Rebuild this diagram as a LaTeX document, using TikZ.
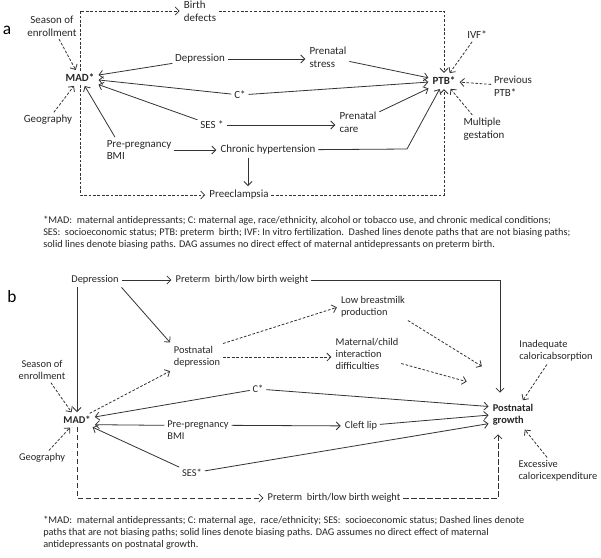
\documentclass[tikz,border=0pt]{standalone}
\usepackage{fontspec}
\setmainfont{Carlito}
\usetikzlibrary{arrows.meta}

\begin{document}
\begin{tikzpicture}[
  x=0.75pt, y=-0.75pt,
  lbl/.style={inner sep=2pt, align=left, font=\fontsize{8.2}{9.6}\selectfont, text=black!85},
  lblb/.style={lbl, font=\fontsize{7.8}{9.2}\selectfont},
  outc/.style={lbl, font=\bfseries\fontsize{8.2}{9.6}\selectfont},
  outcb/.style={lbl, font=\bfseries\fontsize{7.8}{9.2}\selectfont},
  panel/.style={inner sep=0pt, font=\fontsize{13}{13}\selectfont},
  note/.style={anchor=north west, align=left, inner sep=0pt, font=\fontsize{7.7}{9}\selectfont, text=black!85},
  arrow/.style={-{Straight Barb[length=3pt,width=6pt]}, draw=black!80, line width=0.6pt, shorten >=1pt},
  dasharrow/.style={arrow, dash pattern=on 2pt off 1.3pt},
  longdash/.style={arrow, dash pattern=on 4pt off 2pt},
]
  \fill[white] (0,0) rectangle (601,558);
  \useasboundingbox (0,0) rectangle (601,558);

  % panel a
  \node[panel] (lbla) at (7,30) {a};
  \node[lbl, align=center] (seasona) at (52,26) {Season of\\enrollment};
  \node[outc] (mada) at (80,78) {MAD*};
  \node[lbl] (geoa) at (48,120) {Geography};
  \node[lbl] (defects) at (200,11) {Birth\\defects};
  \node[lbl] (depa) at (200,59) {Depression};
  \node[lbl] (stress) at (328,57) {Prenatal\\stress};
  \node[outc] (ptb) at (444,81) {PTB*};
  \node[lbl] (ca) at (240,95) {C*};
  \node[lbl] (ivf) at (477,35) {IVF*};
  \node[lbl] (prev) at (513,86) {Previous\\PTB*};
  \node[lbl] (multi) at (484,129) {Multiple\\gestation};
  \node[lbl] (sesa) at (212,125) {SES *};
  \node[lbl] (care) at (358,122) {Prenatal\\care};
  \node[lbl] (bmia) at (139,150) {Pre-pregnancy\\BMI};
  \node[lbl] (chronic) at (268,150) {Chronic hypertension};
  \node[lbl] (preec) at (239,195) {Preeclampsia};
  \coordinate (bend) at (407,149);

  \draw[dasharrow] (seasona) -- (mada);
  \draw[dasharrow] (geoa) -- (mada);
  \draw[dasharrow] (mada.north) |- (defects.west);
  \draw[dasharrow] (defects.east) -| (ptb.north);
  \draw[arrow] (depa) -- (mada);
  \draw[arrow] (depa) -- (stress.west |- depa);
  \draw[arrow] (stress) -- (ptb);
  \draw[arrow] (ca) -- (mada);
  \draw[arrow] (ca) -- (ptb);
  \draw[dasharrow] (ivf) -- (ptb);
  \draw[dasharrow] (prev) -- (ptb);
  \draw[dasharrow] (multi) -- (ptb);
  \draw[arrow] (sesa) -- (mada);
  \draw[arrow] (sesa) -- (care.west |- sesa);
  \draw[arrow] (care) -- (ptb);
  \draw[arrow] ([xshift=-18pt]bmia.north) -- (mada);
  \draw[arrow] (bmia) -- (chronic);
  \draw[arrow] (chronic) -- (bend) -- (ptb);
  \draw[arrow] ([xshift=-15pt]chronic.south) -- ([xshift=-15pt]chronic.south |- preec.north);
  \draw[dasharrow] (mada.south) |- (preec.west);
  \draw[dasharrow] (preec.east) -| (ptb.south);

  \node[note] (capa) at (43,216) {*MAD:\ \ maternal antidepressants; C: maternal age,\ race/ethnicity, alcohol or tobacco use, and chronic medical conditions;\\
    SES:\ \ socioeconomic status; PTB: preterm\ \ birth; IVF: In vitro fertilization.\ \ Dashed lines denote paths that are not biasing paths;\\
    solid lines denote biasing paths. DAG assumes no direct effect of maternal antidepressants on preterm birth.};

  % panel b
  \node[panel] (lblb) at (12,297) {b};
  \node[lblb] (depb) at (95,280) {Depression};
  \node[lblb] (ptlbw) at (242,280) {Preterm\ \ birth/low birth weight};
  \node[lblb] (pndep) at (197,357) {Postnatal\\depression};
  \node[lblb] (lowbm) at (373,307) {Low breastmilk\\production};
  \node[lblb] (matchild) at (367,354) {Maternal/child\\interaction\\difficulties};
  \node[lblb] (inadeq) at (556,351) {Inadequate\\caloricabsorption};
  \node[outcb] (growth) at (513,415) {Postnatal\\growth};
  \node[lblb] (cb) at (258,389) {C*};
  \node[outcb] (madb) at (77,420) {MAD*};
  \node[lblb, align=center] (seasonb) at (42,370) {Season of\\enrollment};
  \node[lblb] (geob) at (42,458) {Geography};
  \node[lblb] (bmib) at (198,430) {Pre-pregnancy\\BMI};
  \node[lblb] (cleft) at (361,426) {Cleft lip};
  \node[lblb] (sesb) at (192,473) {SES*};
  \node[lblb] (ptlbw2) at (334,498) {Preterm\ \ birth/low birth weight};
  \node[lblb] (excess) at (558,471) {Excessive\\caloricexpenditure};
  \coordinate (gtop) at (500,394);
  \coordinate (gbot) at (498,433);
  \coordinate (gin1) at (483,367);
  \coordinate (gin2) at (468,382);

  \draw[arrow] (depb) -- (ptlbw);
  \draw[arrow] (ptlbw) -| (gtop);
  \draw[arrow] (depb.south east) -- (pndep.north west);
  \draw[arrow] (depb.south -| madb) -- (madb.north);
  \draw[dasharrow] (madb) -- (pndep);
  \draw[dasharrow] (pndep.north east) -- (lowbm.west);
  \draw[dasharrow] (pndep) -- (matchild.west |- pndep);
  \draw[dasharrow] (lowbm.south east) -- (gin1);
  \draw[dasharrow] (matchild) -- (gin2);
  \draw[dasharrow] (inadeq) -- (growth);
  \draw[dasharrow] (excess) -- (growth);
  \draw[dasharrow] (seasonb) -- (madb);
  \draw[dasharrow] (geob) -- (madb);
  \draw[arrow] (cb) -- (madb);
  \draw[arrow] (cb) -- (growth.160);
  \draw[arrow] ([yshift=3.5pt]bmib.west) -- ([yshift=-3.5pt]madb.east);
  \draw[arrow] ([yshift=3.5pt]bmib.east) -- (cleft);
  \draw[arrow] (cleft) -- (growth.west);
  \draw[arrow] (sesb) -- (madb);
  \draw[arrow] (sesb) -- (growth.200);
  \draw[longdash] (madb.south) |- (ptlbw2.west);
  \draw[longdash] (ptlbw2.east) -| (gbot);

  \node[note] (capb) at (43,516) {*MAD:\ \ maternal antidepressants; C: maternal age,\ \ race/ethnicity; SES:\ \ socioeconomic status; Dashed lines denote\\
    paths that are not biasing paths; solid lines denote biasing paths. DAG assumes no direct effect of maternal\\
    antidepressants on postnatal growth.};
\end{tikzpicture}
\end{document}
